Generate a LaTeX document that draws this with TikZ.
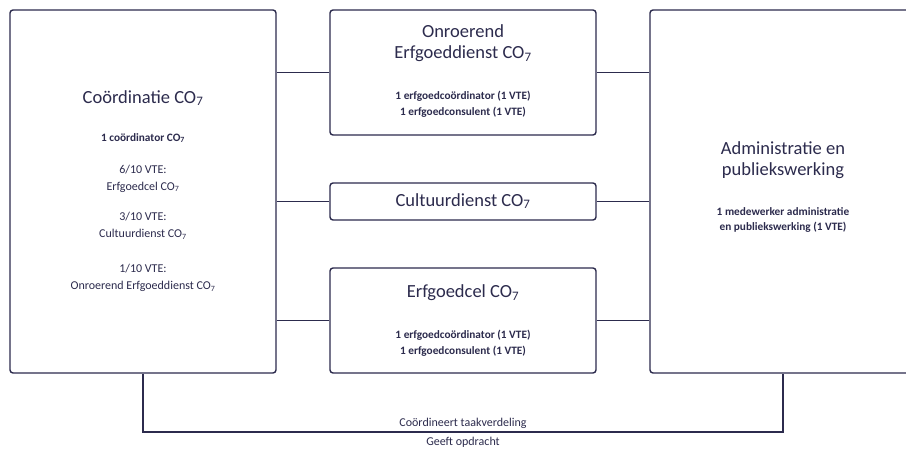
\documentclass[tikz,border=0pt]{standalone}
\usepackage{fontspec}
\setmainfont{Carlito}
\definecolor{navy}{HTML}{2C2B4D}
\tikzset{
  box/.style={draw=navy, line width=1.4pt, rounded corners=3pt, fill=white, inner sep=0pt},
  conn/.style={draw=navy, line width=1.2pt},
  title/.style={text=navy, font=\fontsize{18.5}{21}\selectfont, align=center, inner sep=0pt},
  small/.style={text=navy, font=\bfseries\fontsize{11.3}{15.5}\selectfont, align=center, inner sep=0pt},
  plain/.style={text=navy, font=\fontsize{12}{17}\selectfont, align=center, inner sep=0pt},
  lbl/.style={text=navy, font=\fontsize{12}{13}\selectfont, inner sep=0pt},
}
\newcommand{\cosev}{CO\textsubscript{7}}
\begin{document}
\begin{tikzpicture}[x=1pt,y=-1pt]
\useasboundingbox (0,0) rectangle (906,452);
\clip (0,0) rectangle (906,452);
\fill[white] (0,0) rectangle (906,452);
% boxes
\node[box, minimum width=266, minimum height=363] (L) at (143,191.5) {};
\node[box, minimum width=266, minimum height=125] (O) at (463,72.5) {};
\node[box, minimum width=266, minimum height=37] (C) at (463,201.5) {};
\node[box, minimum width=266, minimum height=105] (E) at (463,320.5) {};
\node[box, minimum width=266, minimum height=363] (R) at (783,191.5) {};
% connectors
\draw[conn] (O.west -| L.east) -- (O.west);
\draw[conn] (C.west -| L.east) -- (C.west);
\draw[conn] (E.west -| L.east) -- (E.west);
\draw[conn] (O.east) -- (O.east -| R.west);
\draw[conn] (C.east) -- (C.east -| R.west);
\draw[conn] (E.east) -- (E.east -| R.west);
\coordinate (B) at (143,432);
\draw[conn] (L.south) -- (B) -| (R.south);
\node[lbl, anchor=south] (t1) at (463,428.5) {Coördineert taakverdeling};
\node[lbl, anchor=north] (t2) at (463,437) {Geeft opdracht};
% left box text
\node[title] (Lt) at (143,98) {Coördinatie \cosev};
\node[small] (Ls) at (143,138) {1 coördinator \cosev};
\node[plain] (L1) at (143,178.5) {6/10 VTE:\\Erfgoedcel \cosev};
\node[plain] (L2) at (143,226) {3/10 VTE:\\Cultuurdienst \cosev};
\node[plain] (L3) at (143,278) {1/10 VTE:\\Onroerend Erfgoeddienst \cosev};
% middle
\node[title] (Ot) at (463,43.5) {Onroerend\\Erfgoeddienst \cosev};
\node[small] (Os) at (463,104.5) {1 erfgoedcoördinator (1 VTE)\\1 erfgoedconsulent (1 VTE)};
\node[title] (Ct) at (463,201) {Cultuurdienst \cosev};
\node[title] (Et) at (463,293) {Erfgoedcel \cosev};
\node[small] (Es) at (463,343.5) {1 erfgoedcoördinator (1 VTE)\\1 erfgoedconsulent (1 VTE)};
% right
\node[title] (Rt) at (783,160.5) {Administratie en\\publiekswerking};
\node[small] (Rs) at (783,220) {1 medewerker administratie\\en publiekswerking (1 VTE)};
\end{tikzpicture}
\end{document}
